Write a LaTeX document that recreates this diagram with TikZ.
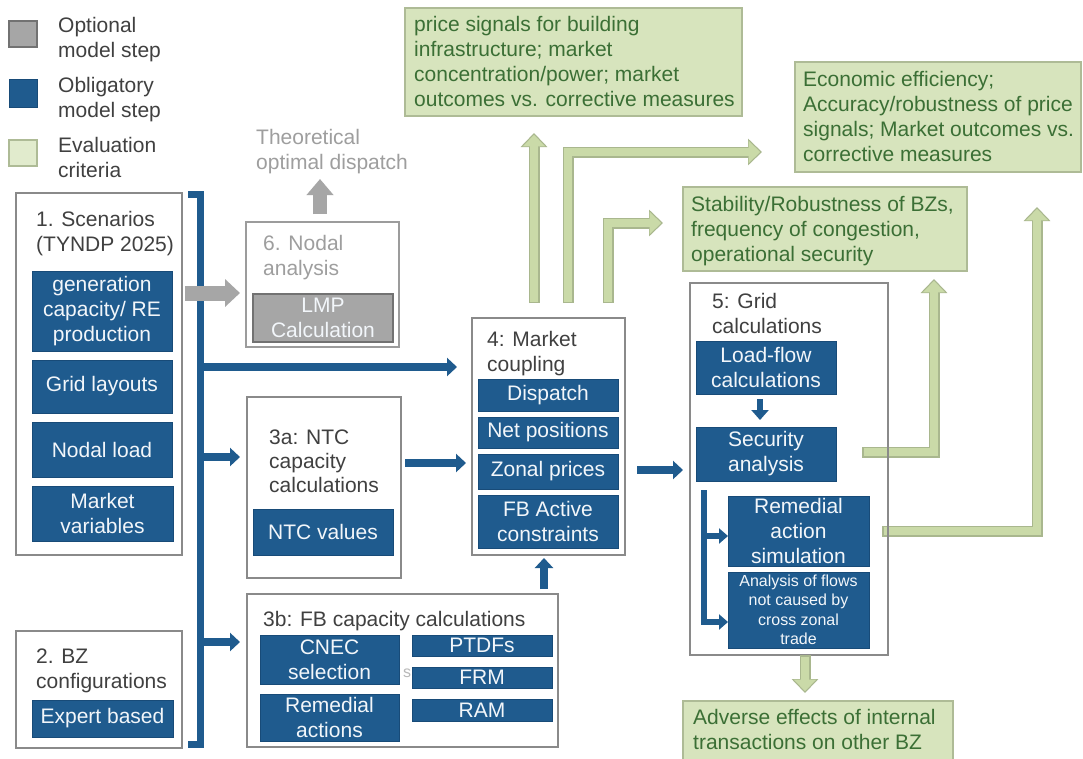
\documentclass[tikz,border=0pt]{standalone}
\usepackage{fontspec}
\setmainfont{Liberation Sans}
\usetikzlibrary{arrows.meta}
\definecolor{oblfill}{HTML}{1F5B8E}
\definecolor{oblborder}{HTML}{184B78}
\definecolor{wtxt}{HTML}{F2F6FA}
\definecolor{ttltxt}{HTML}{404040}
\definecolor{contborder}{HTML}{8A8A8A}
\definecolor{optfill}{HTML}{A6A6A6}
\definecolor{optborder}{HTML}{727272}
\definecolor{opttxt}{HTML}{9E9E9E}
\definecolor{evalfill}{HTML}{D7E4BD}
\definecolor{evalborder}{HTML}{AEBB96}
\definecolor{evaltxt}{HTML}{3B6F35}
\definecolor{gfill}{HTML}{CADAA8}
\definecolor{gborder}{HTML}{A9B78E}
\definecolor{straytxt}{HTML}{B8B8B8}
\newcommand\fsA{\fontsize{21}{25}\selectfont}
\newcommand\fsB{\fontsize{16}{19.5}\selectfont}
\newcommand\bx[7]{\node[#6, minimum width={#4-#2}, minimum height={#5-#3}] (#1) at ({(#2+#4)/2},{(#3+#5)/2}) {#7};}
\newcommand\garrow[1]{\draw[garrowout] #1; \draw[garrowin] #1;}
\tikzset{
  obl/.style={fill=oblfill, draw=oblborder, line width=0.8pt, text=wtxt, align=center, font=\fsA, inner sep=0pt, outer sep=0pt},
  oblsmall/.style={obl, font=\fsB},
  opt/.style={fill=optfill, draw=optborder, line width=1.2pt, text=wtxt, align=center, font=\fsA, inner sep=0pt, outer sep=0pt},
  cont/.style={fill=white, draw=contborder, line width=1.4pt, inner sep=0pt, outer sep=0pt},
  contopt/.style={fill=white, draw=contborder!85, line width=1.4pt, inner sep=0pt, outer sep=0pt},
  evalbox/.style={fill=evalfill, draw=evalborder, line width=1.2pt, inner sep=0pt, outer sep=0pt},
  evaltext/.style={text=evaltxt, font=\fsA, align=left, anchor=north west, inner sep=0pt},
  ttl/.style={text=ttltxt, font=\fsA, align=left, anchor=north west, inner sep=0pt},
  ttlopt/.style={ttl, text=opttxt},
  legtext/.style={ttl},
  bus/.style={draw=oblfill, line width=7pt, line join=miter},
  barrow/.style={draw=oblfill, line width=7.5pt, -{Triangle[width=18pt,length=10pt]}},
  barrowsmall/.style={draw=oblfill, line width=5.5pt, line join=miter, -{Triangle[width=15pt,length=9pt]}},
  garrowout/.style={draw=gborder, line width=11pt, line join=miter, -{Triangle[width=26pt,length=14pt]}},
  garrowin/.style={draw=gfill, line width=8pt, line join=miter, shorten >=1.8pt, shorten <=1.5pt, -{Triangle[width=21.5pt,length=11.5pt]}},
  grarrow/.style={draw=optfill, line width=15pt, -{Triangle[width=27pt,length=15pt]}}
}
\begin{document}
\begin{tikzpicture}[x=1pt,y=-1pt]
\useasboundingbox (0,0) rectangle (1083,758);
\fill[white] (0,0) rectangle (1083,758);
% legend
\bx{lgopt}{9}{21}{37}{47}{opt}{}
\bx{lgobl}{9}{79}{37}{107}{obl}{}
\bx{lgeval}{9}{140}{37}{166}{evalbox, fill=evalfill!75!white}{}
\node[legtext] (lt1) at (58,17) {Optional\\model step};
\node[legtext] (lt2) at (58,77) {Obligatory\\model step};
\node[legtext] (lt3) at (58,137) {Evaluation\\criteria};
% evaluation boxes
\bx{price}{405}{8}{742}{116}{evalbox}{}
\node[evaltext] (pricet) at (414,16) {price signals for building\\infrastructure; market\\concentration/power; market\\outcomes vs. corrective measures};
\bx{econ}{795}{62}{1081}{172}{evalbox}{}
\node[evaltext] (econt) at (803,71) {Economic efficiency;\\Accuracy/robustness of price\\signals; Market outcomes vs.\\corrective measures};
\bx{stab}{683}{187}{967}{271}{evalbox}{}
\node[evaltext] (stabt) at (691,196) {Stability/Robustness of BZs,\\frequency of congestion,\\operational security};
\bx{adv}{683}{701}{953}{775}{evalbox}{}
\node[evaltext] (advt) at (693,709) {Adverse effects of internal\\transactions on other BZ};
% containers
\bx{box1}{16}{193}{182}{555}{cont}{}
\bx{box2}{16}{631}{182}{748}{cont}{}
\bx{box6}{246}{222}{399}{347}{contopt}{}
\bx{box3a}{247}{397}{401}{578}{cont}{}
\bx{box3b}{247}{594}{558}{747}{cont}{}
\bx{box4}{472}{318}{625}{555}{cont}{}
\bx{box5}{690}{283}{888}{655}{cont}{}
% titles
\node[ttl] (t1) at (36,211) {1. Scenarios\\(TYNDP 2025)};
\node[ttl] (t2) at (36,649) {2. BZ\\configurations};
\node[ttlopt] (t6) at (263,235) {6. Nodal\\analysis};
\node[ttlopt] (theo) at (256,129) {Theoretical\\optimal dispatch};
\node[ttl, font=\fontsize{21}{24}\selectfont] (t3a) at (269,430) {3a: NTC\\capacity\\calculations};
\node[ttl] (t3b) at (263,611) {3b: FB capacity calculations};
\node[ttl] (t4) at (487,331) {4: Market\\coupling};
\node[ttl] (t5) at (712,293) {5: Grid\\calculations};
% inner boxes
\bx{gen}{32}{271}{172}{351}{obl}{generation\\capacity/ RE\\production}
\bx{grid}{32}{360}{172}{413}{obl}{Grid layouts}
\bx{nload}{32}{422}{172}{477}{obl}{Nodal load}
\bx{mvar}{32}{486}{173}{541}{obl}{Market\\variables}
\bx{expert}{32}{700}{173}{737}{obl}{Expert based}
\bx{lmp}{253}{294}{393}{342}{opt}{LMP\\Calculation}
\bx{ntc}{253}{509}{393}{555}{obl}{NTC values}
\bx{cnec}{260}{635}{399}{684}{obl}{CNEC\\selection}
\bx{remact}{260}{694}{399}{741}{obl}{Remedial\\actions}
\bx{ptdf}{412}{635}{552}{656}{obl}{PTDFs}
\bx{frm}{412}{667}{552}{688}{obl}{FRM}
\bx{ram}{412}{699}{552}{721}{obl}{RAM}
\node[text=straytxt, font=\fsB, inner sep=0pt] (stray) at (407,673) {s};
\bx{disp}{478}{379}{618}{411}{obl}{Dispatch}
\bx{netpos}{478}{417}{618}{448}{obl}{Net positions}
\bx{zonal}{478}{454}{618}{489}{obl}{Zonal prices}
\bx{fbac}{478}{495}{618}{548}{obl}{FB Active\\constraints}
\bx{lflow}{696}{341}{836}{394}{obl}{Load-flow\\calculations}
\bx{secan}{696}{427}{836}{481}{obl}{Security\\analysis}
\bx{ras}{728}{496}{869}{566}{obl}{Remedial\\action\\simulation}
\bx{aflow}{728}{572}{869}{648}{oblsmall}{Analysis of flows\\not caused by\\cross zonal\\trade}
% coordinates for connectors
\coordinate (busTL) at (188,194);
\coordinate (busT) at (200,194);
\coordinate (busB) at (200,744);
\coordinate (busBL) at (188,744);
\coordinate (b1e) at (457,367);
\coordinate (b3e) at (240,457);
\coordinate (b4e) at (240,642);
\coordinate (b5s) at (405,463);
\coordinate (b5e) at (466,463);
\coordinate (b6s) at (544,589);
\coordinate (b6e) at (544,558);
\coordinate (b7s) at (637,470);
\coordinate (b7e) at (683,470);
\coordinate (b8s) at (760,399);
\coordinate (b8e) at (760,420);
\coordinate (br1) at (704,490);
\coordinate (br2) at (728,536);
\coordinate (br3) at (728,622);
\coordinate (g1s) at (185,293);
\coordinate (g1e) at (240,293);
\coordinate (g2s) at (320,214);
\coordinate (g2e) at (320,179);
\coordinate (a1s) at (534,303);
\coordinate (a1e) at (534,133);
\coordinate (a2s) at (568,303);
\coordinate (a2e) at (762,152);
\coordinate (a3s) at (608,303);
\coordinate (a3e) at (663,223);
\coordinate (a4s) at (862,452);
\coordinate (a4e) at (934,279);
\coordinate (a5s) at (882,531);
\coordinate (a5e) at (1037,207);
\coordinate (a6s) at (805,655);
\coordinate (a6e) at (805,693);
% blue connectors
\draw[bus] (busTL) -- (busT) -- (busB) -- (busBL);
\draw[barrow] (busT |- b1e) -- (b1e);
\draw[barrow] (busT |- b3e) -- (b3e);
\draw[barrow] (busT |- b4e) -- (b4e);
\draw[barrow] (b5s) -- (b5e);
\draw[barrow] (b6s) -- (b6e);
\draw[barrow] (b7s) -- (b7e);
\draw[barrowsmall, line width=6pt, -{Triangle[width=17pt,length=10pt]}] (b8s) -- (b8e);
\draw[barrowsmall] (br1) |- (br2);
\draw[barrowsmall] (br1) |- (br3);
% grey connectors
\draw[grarrow] (g1s) -- (g1e);
\draw[grarrow, line width=14pt, -{Triangle[width=26pt,length=16pt]}] (g2s) -- (g2e);
% green connectors
\garrow{(a1s) -- (a1e)}
\garrow{(a2s) |- (a2e)}
\garrow{(a3s) |- (a3e)}
\garrow{(a4s) -| (a4e)}
\garrow{(a5s) -| (a5e)}
\garrow{(a6s) -- (a6e)}
\draw[draw=contborder, line width=1.4pt] (box5.north east) -- (box5.south east);
\end{tikzpicture}
\end{document}
